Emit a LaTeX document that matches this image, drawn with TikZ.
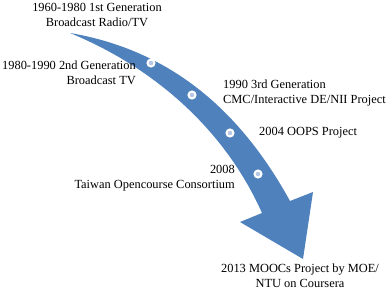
\documentclass[tikz,border=0pt]{standalone}
\usepackage{fontspec}
\setmainfont{Liberation Serif}
\usetikzlibrary{positioning}
\definecolor{ArrowBlue}{RGB}{79,129,189}
\definecolor{DotBlue}{RGB}{183,200,230}
\tikzset{
  milestone/.style={circle,fill=DotBlue,draw=white,line width=2pt,
    minimum size=7pt,inner sep=0pt},
  era/.style={inner sep=0pt,font=\fontsize{12.4}{15}\selectfont},
  bigarrow/.style={fill=ArrowBlue,draw=none}
}
\begin{document}
\begin{tikzpicture}[x=1pt,y=-1pt]
  \useasboundingbox (0,0) rectangle (387,290);
  % curved timeline arrow
  \fill[bigarrow] (70,33) .. controls (170,50) and (240,110) .. (290,201)
    -- (313,192) -- (303,259) -- (240,222) -- (262,213)
    .. controls (225,130) and (155,68) .. (70,33) -- cycle;
  \node[milestone] (m1) at (151,63) {};
  \node[milestone] (m2) at (192,95) {};
  \node[milestone] (m3) at (230,133) {};
  \node[milestone] (m4) at (258,174) {};
  \node[era,align=center] (gen1) at (97,14.5) {1960-1980 1st Generation\\Broadcast Radio/TV};
  \node[era,align=right,anchor=east] (gen2) at (136,72.5) {1980-1990 2nd Generation\\Broadcast TV};
  \node[era,align=left,anchor=west] (gen3) at (223,93.5) {1990 3rd Generation\\CMC/Interactive DE/NII Project};
  \node[era,anchor=west] (oops) at (259,133) {2004 OOPS Project};
  \node[era,align=right,anchor=east] (toc) at (235,178.5) {2008\\Taiwan Opencourse Consortium};
  \node[era,align=center] (moocs) at (300,275.5) {2013 MOOCs Project by MOE/\\NTU on Coursera};
\end{tikzpicture}
\end{document}
